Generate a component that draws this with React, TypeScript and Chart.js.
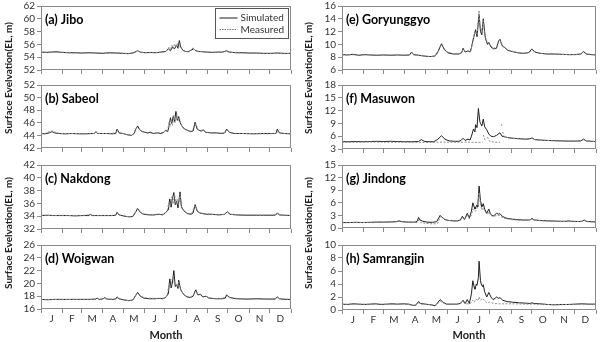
import React, { useEffect, useRef } from "react";
import { Chart, registerables } from "chart.js";

Chart.register(...registerables);

type Pt = [number, number | null];

const monthStarts = [0, 31, 59, 90, 120, 151, 181, 212, 243, 273, 304, 334, 365];
const monthMids = [15.5, 45, 74.5, 105, 135.5, 166, 196.5, 227.5, 258, 288.5, 319, 349.5];
const monthLabels = ["J", "F", "M", "A", "M", "J", "J", "A", "S", "O", "N", "D"];
const legendLabels = ["Simulated", "Measured"];
const yTitle = "Surface Evelvation(EL, m)";
const xTitle = "Month";

// (a) Jibo
const jiboSim: Pt[] = [[0,54.8],[8,54.75],[15,54.8],[22,54.85],[30,54.75],[40,54.7],[50,54.7],[60,54.65],[70,54.7],[80,54.65],[90,54.6],[100,54.7],[110,54.65],[120,54.6],[128,54.55],[135,54.7],[141,55.0],[145,54.8],[152,54.7],[160,54.75],[168,54.7],[175,54.8],[182,54.9],[186,55.3],[189,55.0],[192,55.6],[195,55.3],[198,55.9],[200,55.4],[202,56.6],[204,55.6],[207,55.1],[211,54.9],[215,54.85],[219,55.1],[223,55.3],[226,55.0],[230,54.9],[236,54.85],[242,54.8],[250,54.75],[258,54.8],[265,54.8],[271,55.0],[275,54.8],[285,54.7],[295,54.7],[305,54.65],[315,54.65],[325,54.6],[335,54.6],[345,54.65],[355,54.6],[365,54.6]];
const jiboMea: Pt[] = [[0,54.75],[10,54.8],[20,54.75],[30,54.8],[40,54.7],[50,54.65],[60,54.7],[70,54.65],[80,54.7],[90,54.65],[100,54.6],[110,54.7],[120,54.6],[128,54.6],[135,54.65],[141,54.95],[146,54.75],[155,54.7],[165,54.7],[175,54.75],[182,54.85],[185,55.2],[187,55.6],[189,55.1],[191,55.9],[193,55.3],[195,56.1],[197,55.6],[199,56.2],[201,55.5],[203,56.0],[205,55.3],[208,55.0],[212,54.9],[217,54.95],[220,55.2],[222,55.5],[225,55.1],[229,54.9],[235,54.85],[245,54.8],[255,54.75],[265,54.8],[270,54.95],[274,54.8],[285,54.7],[300,54.65],[320,54.6],[340,54.6],[355,54.55],[365,54.6]];

// (b) Sabeol
const sabeolSim: Pt[] = [[0,44.3],[6,44.25],[12,44.4],[16,44.6],[20,44.4],[26,44.3],[35,44.25],[45,44.3],[55,44.25],[65,44.25],[72,44.3],[78,44.3],[80,44.6],[83,44.3],[95,44.3],[105,44.25],[109,44.3],[111,45.0],[114,44.4],[120,44.3],[126,44.1],[132,44.0],[136,44.3],[138,44.9],[141,45.5],[144,44.9],[148,44.6],[155,44.4],[160,44.5],[164,44.3],[170,44.4],[175,44.3],[179,44.5],[182,44.8],[185,44.6],[187,45.5],[189,46.8],[191,45.9],[193,47.0],[195,46.2],[197,47.8],[199,46.4],[201,47.0],[203,46.1],[206,45.4],[210,45.0],[214,44.8],[218,44.6],[222,44.7],[225,46.1],[228,45.0],[231,44.8],[234,44.7],[237,44.9],[240,44.5],[248,44.4],[256,44.4],[264,44.3],[268,44.4],[271,45.0],[275,44.5],[282,44.3],[295,44.3],[310,44.25],[325,44.3],[338,44.3],[343,44.3],[345,45.0],[348,44.4],[356,44.3],[365,44.25]];
const sabeolMea: Pt[] = [[0,44.25],[6,44.3],[10,44.5],[14,44.7],[18,44.65],[22,44.45],[28,44.3],[40,44.3],[55,44.3],[70,44.25],[79,44.3],[80,44.5],[83,44.3],[100,44.3],[110,44.4],[111,44.9],[114,44.4],[122,44.25],[128,44.0],[133,44.05],[137,44.6],[140,45.3],[143,45.0],[147,44.6],[155,44.4],[165,44.35],[172,44.4],[178,44.4],[181,44.7],[185,44.7],[187,46.2],[188,45.3],[190,46.5],[192,45.6],[194,47.2],[196,46.0],[198,47.4],[200,46.3],[202,46.8],[204,45.8],[207,45.2],[211,44.9],[216,44.7],[221,44.7],[224,45.6],[226,45.9],[229,45.0],[233,44.7],[237,44.8],[242,44.5],[250,44.4],[262,44.35],[270,44.5],[272,44.9],[276,44.4],[290,44.3],[310,44.3],[330,44.25],[344,44.3],[345,44.8],[348,44.35],[365,44.25]];

// (c) Nakdong
const nakdongSim: Pt[] = [[0,34.1],[10,34.15],[20,34.1],[30,34.1],[40,34.1],[50,34.05],[60,34.1],[70,34.1],[72,34.3],[75,34.1],[85,34.1],[95,34.1],[105,34.1],[109,34.15],[111,34.6],[114,34.2],[120,34.05],[128,33.9],[134,33.95],[138,34.6],[141,35.2],[145,34.6],[150,34.3],[158,34.2],[165,34.2],[172,34.3],[178,34.2],[182,34.6],[186,35.0],[188,36.7],[190,35.4],[192,36.8],[194,37.7],[196,35.8],[198,36.3],[200,35.3],[203,37.8],[205,35.4],[209,34.8],[214,34.4],[219,34.3],[222,34.5],[225,35.8],[228,34.8],[232,34.5],[236,34.4],[242,34.3],[250,34.3],[260,34.2],[268,34.3],[272,34.7],[276,34.3],[285,34.2],[300,34.15],[315,34.15],[330,34.15],[342,34.15],[345,34.5],[348,34.2],[356,34.15],[365,34.1]];
const nakdongMea: Pt[] = [[0,34.15],[15,34.1],[30,34.15],[45,34.1],[60,34.1],[72,34.25],[80,34.1],[100,34.1],[110,34.2],[111,34.5],[115,34.15],[125,33.95],[132,33.9],[137,34.4],[140,35.1],[143,34.9],[148,34.4],[158,34.25],[170,34.3],[180,34.3],[184,34.8],[187,36.2],[189,35.6],[191,37.0],[193,36.0],[195,37.4],[197,36.0],[199,36.7],[201,35.8],[203,37.5],[205,35.6],[208,34.9],[213,34.5],[220,34.4],[224,35.5],[226,35.5],[229,34.7],[234,34.5],[240,34.35],[255,34.25],[268,34.25],[272,34.6],[276,34.3],[295,34.2],[320,34.15],[344,34.2],[345,34.45],[349,34.2],[365,34.1]];

// (d) Woigwan
const woigwanSim: Pt[] = [[0,17.5],[10,17.45],[20,17.5],[30,17.5],[40,17.5],[50,17.5],[60,17.5],[70,17.5],[80,17.55],[82,17.7],[85,17.5],[91,17.6],[93,17.8],[96,17.55],[105,17.5],[109,17.55],[111,17.9],[114,17.6],[120,17.45],[128,17.3],[134,17.4],[138,18.1],[141,18.6],[145,18.0],[150,17.7],[158,17.6],[165,17.6],[172,17.65],[178,17.6],[182,17.8],[186,18.4],[188,20.7],[190,19.3],[192,20.2],[194,22.0],[196,19.5],[198,19.8],[200,19.2],[201,20.5],[204,19.0],[208,18.3],[213,17.9],[218,17.8],[222,18.0],[226,19.0],[229,18.2],[233,18.3],[236,17.9],[241,18.0],[245,17.7],[255,17.6],[265,17.6],[269,17.7],[271,18.2],[275,17.8],[285,17.6],[300,17.55],[315,17.6],[330,17.55],[342,17.55],[345,17.9],[348,17.6],[356,17.5],[365,17.5]];
const woigwanMea: Pt[] = [[0,17.45],[15,17.5],[30,17.45],[45,17.5],[60,17.5],[75,17.5],[82,17.65],[86,17.5],[93,17.7],[97,17.5],[110,17.55],[111,17.8],[115,17.5],[125,17.35],[132,17.35],[137,17.8],[140,18.5],[143,18.3],[147,17.9],[155,17.7],[168,17.65],[180,17.7],[184,18.0],[187,20.0],[189,19.5],[191,20.5],[193,21.2],[195,19.8],[197,20.0],[199,19.4],[201,20.2],[203,19.3],[207,18.5],[212,18.0],[218,17.85],[223,18.3],[226,18.8],[229,18.3],[233,18.2],[237,17.9],[241,17.95],[247,17.7],[260,17.6],[270,17.8],[272,18.1],[276,17.8],[290,17.6],[320,17.55],[344,17.6],[345,17.85],[349,17.6],[365,17.5]];

// (e) Goryunggyo
const goryunggyoSim: Pt[] = [[0,8.4],[8,8.35],[16,8.45],[24,8.3],[32,8.4],[40,8.35],[50,8.3],[60,8.35],[70,8.3],[80,8.35],[90,8.3],[97,8.35],[100,8.8],[103,8.4],[110,8.3],[120,8.15],[128,8.1],[134,8.2],[138,8.9],[143,10.1],[147,9.2],[152,8.7],[160,8.5],[168,8.5],[172,8.7],[174,9.4],[177,8.8],[181,9.0],[184,8.8],[186,9.5],[189,11.0],[192,12.3],[194,11.2],[197,14.7],[199,12.0],[201,11.5],[203,14.0],[206,11.0],[209,10.0],[211,10.3],[214,9.6],[218,9.3],[222,9.4],[225,10.5],[227,10.8],[230,9.8],[234,9.5],[238,9.1],[244,8.9],[252,8.7],[260,8.6],[268,8.7],[273,9.3],[277,8.8],[285,8.6],[295,8.5],[305,8.5],[315,8.45],[325,8.4],[335,8.4],[343,8.5],[347,8.9],[351,8.5],[358,8.4],[365,8.35]];
const goryunggyoMea: Pt[] = [[0,8.35],[10,8.4],[20,8.35],[30,8.35],[40,8.4],[55,8.3],[70,8.35],[85,8.3],[98,8.4],[100,8.7],[104,8.35],[115,8.25],[125,8.1],[133,8.15],[138,8.7],[142,9.9],[145,9.7],[150,8.9],[160,8.55],[170,8.6],[174,9.2],[177,8.9],[181,8.9],[185,8.9],[188,10.5],[191,12.0],[194,11.5],[196,14.0],[197,15.3],[198,13.0],[201,12.0],[203,13.7],[205,11.5],[209,10.2],[212,10.0],[216,9.5],[221,9.4],[225,10.3],[227,10.6],[231,9.7],[236,9.3],[242,9.0],[252,8.75],[262,8.6],[270,8.8],[273,9.2],[278,8.8],[290,8.55],[310,8.45],[330,8.4],[344,8.5],[347,8.85],[352,8.5],[365,8.35]];

// (f) Masuwon
const masuwonSim: Pt[] = [[0,4.7],[10,4.7],[20,4.75],[30,4.7],[40,4.75],[50,4.8],[60,4.75],[70,4.8],[80,4.75],[90,4.7],[100,4.7],[110,4.75],[114,5.2],[118,4.8],[125,4.7],[132,4.7],[137,5.2],[143,6.1],[148,5.3],[154,4.9],[162,4.8],[168,4.8],[171,5.0],[174,5.5],[177,5.0],[181,5.3],[184,5.1],[186,6.0],[189,7.7],[191,7.0],[192,8.7],[194,8.0],[196,12.5],[198,9.5],[199,9.0],[201,8.4],[203,10.0],[205,8.2],[208,7.5],[211,6.5],[214,6.0],[218,5.9],[222,6.2],[227,6.8],[230,6.0],[235,5.8],[240,5.6],[248,5.5],[256,5.4],[264,5.3],[270,5.4],[273,5.6],[277,5.2],[285,5.1],[295,5.0],[305,4.95],[315,4.9],[325,4.85],[335,4.85],[343,4.9],[347,5.3],[351,4.9],[358,4.8],[365,4.75]];
const masuwonMea: Pt[] = [[0,4.6],[20,4.6],[40,4.65],[60,4.6],[80,4.6],[100,4.6],[120,4.55],[140,4.6],[160,4.6],[180,4.6],[200,4.55],[202,4.6],[202.5,null],[203,6.3],[206,4.9],[207,null],[209,5.8],[212,4.8],[220,4.6],[227,4.6],[228,null],[229,8.8],[230,8.4],[230.5,null],[231,7.0],[233,5.9],[236,5.8],[240,5.6],[248,5.45],[256,5.35],[264,5.3],[270,5.35],[273,5.5],[277,5.2],[285,5.05],[295,5.0],[305,4.9],[315,4.9],[325,4.85],[335,4.8],[343,4.85],[347,5.2],[351,4.9],[358,4.8],[365,4.7]];

// (g) Jindong
const jindongSim: Pt[] = [[0,1.3],[10,1.3],[20,1.35],[30,1.3],[40,1.35],[50,1.4],[60,1.4],[70,1.45],[78,1.5],[82,1.7],[86,1.5],[95,1.4],[105,1.4],[108,1.6],[110,2.5],[112,1.9],[116,1.6],[122,1.4],[130,1.35],[136,1.5],[139,2.4],[141,3.0],[144,2.5],[148,2.0],[153,1.8],[160,1.7],[166,1.7],[170,1.9],[173,2.8],[176,2.0],[180,3.5],[183,2.4],[186,4.0],[188,6.0],[190,5.0],[191,4.5],[194,5.5],[195,5.0],[197,10.0],[199,6.5],[201,5.0],[203,5.8],[205,4.5],[208,3.5],[211,4.5],[213,3.5],[215,3.0],[218,2.9],[222,3.5],[225,3.3],[227,3.4],[231,2.7],[237,2.3],[245,2.1],[251,2.0],[260,1.9],[268,1.9],[271,2.0],[273,2.3],[276,1.9],[285,1.8],[295,1.7],[305,1.65],[315,1.6],[322,1.6],[325,1.7],[330,1.6],[340,1.55],[345,1.6],[348,1.9],[351,1.6],[358,1.5],[365,1.45]];
const jindongMea: Pt[] = [[0,1.25],[15,1.3],[30,1.3],[45,1.35],[60,1.4],[75,1.45],[82,1.6],[88,1.45],[100,1.35],[108,1.3],[110,1.9],[113,1.3],[120,1.1],[128,1.0],[134,1.0],[138,1.2],[141,2.7],[145,2.4],[150,1.9],[158,1.7],[166,1.7],[170,1.8],[173,2.5],[176,1.9],[180,3.2],[183,2.2],[186,3.0],[188,4.5],[190,4.2],[192,4.0],[194,4.6],[196,6.5],[197,8.5],[199,5.5],[201,4.3],[203,4.8],[206,3.8],[209,3.2],[211,3.8],[214,3.0],[218,2.7],[222,3.0],[226,3.0],[230,2.5],[237,2.2],[245,1.95],[255,1.85],[265,1.8],[273,2.1],[278,1.8],[290,1.7],[310,1.55],[330,1.5],[345,1.55],[348,1.8],[352,1.5],[365,1.4]];

// (h) Samrangjin
const samrangjinSim: Pt[] = [[0,0.9],[8,0.85],[16,0.95],[24,0.9],[32,0.85],[40,0.9],[48,0.95],[56,0.85],[64,0.9],[72,0.95],[80,0.9],[88,0.95],[96,0.9],[102,0.7],[106,0.75],[110,1.3],[113,1.0],[120,0.9],[128,0.8],[134,0.65],[138,1.2],[141,1.6],[145,1.2],[150,0.9],[158,0.9],[165,0.9],[170,1.0],[174,1.5],[177,1.0],[180,1.6],[183,1.0],[186,2.5],[188,4.5],[190,3.5],[191,3.2],[193,4.0],[194,3.8],[196,5.0],[197,7.5],[199,4.5],[200,4.0],[202,3.6],[203,3.9],[205,2.8],[208,2.0],[211,2.7],[214,2.0],[217,1.6],[220,1.8],[222,2.0],[225,1.8],[227,1.9],[231,1.5],[237,1.3],[245,1.2],[255,1.1],[265,1.05],[270,1.0],[273,1.1],[276,1.0],[285,0.95],[295,0.85],[305,0.8],[315,0.85],[325,0.85],[335,0.9],[345,0.95],[355,0.9],[365,0.9]];
const samrangjinMea: Pt[] = [[0,0.85],[10,0.9],[20,0.85],[30,0.9],[40,0.85],[50,0.9],[60,0.9],[70,0.85],[80,0.9],[90,0.9],[100,0.75],[106,0.7],[110,1.1],[114,0.9],[124,0.85],[134,0.7],[138,1.0],[141,1.4],[145,1.1],[152,0.9],[165,0.85],[174,1.2],[178,0.95],[184,0.95],[188,1.5],[190,1.2],[193,1.7],[195,1.4],[197,2.0],[199,1.5],[202,1.8],[205,1.4],[208,1.1],[212,1.2],[218,1.0],[225,0.95],[235,0.95],[250,0.95],[265,0.9],[280,0.9],[295,0.85],[310,0.8],[325,0.85],[340,0.9],[355,0.9],[365,0.85]];

type PanelCfg = {
  title: string; sim: Pt[]; mea: Pt[];
  min: number; max: number; step: number;
  col: number; top: number; h: number; bottom: boolean; legend: boolean;
};

const panels: PanelCfg[] = [
  { title: "(a) Jibo", sim: jiboSim, mea: jiboMea, min: 52, max: 62, step: 2, col: 0, top: 6, h: 66, bottom: false, legend: true },
  { title: "(b) Sabeol", sim: sabeolSim, mea: sabeolMea, min: 42, max: 52, step: 2, col: 0, top: 85, h: 65, bottom: false, legend: false },
  { title: "(c) Nakdong", sim: nakdongSim, mea: nakdongMea, min: 32, max: 42, step: 2, col: 0, top: 165, h: 66, bottom: false, legend: false },
  { title: "(d) Woigwan", sim: woigwanSim, mea: woigwanMea, min: 16, max: 26, step: 2, col: 0, top: 245, h: 64, bottom: true, legend: false },
  { title: "(e) Goryunggyo", sim: goryunggyoSim, mea: goryunggyoMea, min: 6, max: 16, step: 2, col: 1, top: 6, h: 66, bottom: false, legend: false },
  { title: "(f) Masuwon", sim: masuwonSim, mea: masuwonMea, min: 3, max: 18, step: 3, col: 1, top: 85, h: 66, bottom: false, legend: false },
  { title: "(g) Jindong", sim: jindongSim, mea: jindongMea, min: 0, max: 15, step: 3, col: 1, top: 165, h: 65, bottom: false, legend: false },
  { title: "(h) Samrangjin", sim: samrangjinSim, mea: samrangjinMea, min: 0, max: 10, step: 2, col: 1, top: 245, h: 65, bottom: true, legend: false },
];

const FONT = 'Lato, "Open Sans", "DejaVu Sans", sans-serif';
const AXIS_COLOR = "#8a8a8a";
const TEXT_COLOR = "#333333";
const PAD_TOP = 8;
const CANVAS_H_BOTTOM = 342;

function Panel({ cfg }: { cfg: PanelCfg }) {
  const ref = useRef<HTMLCanvasElement>(null);
  const left = cfg.col === 0 ? 0 : 300;
  const yW = cfg.col === 0 ? 41 : 42;
  const rightPad = cfg.col === 0 ? 9 : 4;
  const cTop = cfg.top - PAD_TOP;
  const cH = cfg.bottom ? CANVAS_H_BOTTOM - cTop : PAD_TOP + cfg.h + 4 + 2;
  const x2H = cfg.bottom ? cH - PAD_TOP - cfg.h - 4 : 0;

  useEffect(() => {
    const framePlugin = {
      id: "frame",
      afterDraw(chart: any) {
        const { ctx, chartArea: a } = chart;
        ctx.save();
        ctx.strokeStyle = AXIS_COLOR;
        ctx.lineWidth = 1;
        ctx.setLineDash([]);
        ctx.strokeRect(Math.round(a.left) + 0.5, Math.round(a.top) + 0.5, Math.round(a.right - a.left) - 1, Math.round(a.bottom - a.top) - 1);
        ctx.fillStyle = "#000";
        ctx.font = `bold 12.5px ${FONT}`;
        ctx.textBaseline = "alphabetic";
        ctx.textAlign = "left";
        ctx.fillText(cfg.title, a.left + 4, a.top + 18);
        if (cfg.legend) {
          const bw = 73, bh = 30;
          const bx = Math.round(a.right - 3 - bw) + 0.5;
          const by = Math.round(a.top + 2) + 0.5;
          ctx.strokeStyle = "#555";
          ctx.strokeRect(bx, by, bw, bh);
          ctx.font = `10px ${FONT}`;
          ctx.fillStyle = TEXT_COLOR;
          ctx.textBaseline = "middle";
          const rows = [by + 9.5, by + 21];
          ctx.lineWidth = 1;
          ctx.strokeStyle = "#1e1e1e";
          ctx.beginPath(); ctx.moveTo(bx + 4, rows[0]); ctx.lineTo(bx + 22, rows[0]); ctx.stroke();
          ctx.strokeStyle = "#7a7a7a";
          ctx.setLineDash([1.5, 1]);
          ctx.beginPath(); ctx.moveTo(bx + 4, rows[1]); ctx.lineTo(bx + 22, rows[1]); ctx.stroke();
          ctx.setLineDash([]);
          ctx.fillText(legendLabels[0], bx + 25, rows[0]);
          ctx.fillText(legendLabels[1], bx + 25, rows[1]);
        }
        ctx.restore();
      },
    };

    const chart = new Chart(ref.current as HTMLCanvasElement, {
      type: "line",
      data: {
        datasets: [
          {
            label: legendLabels[1],
            data: cfg.mea.map(([x, y]) => ({ x, y })) as any,
            borderColor: "#8c8c8c",
            borderWidth: 1,
            borderDash: [2, 1.5],
            pointRadius: 0,
            spanGaps: false,
          },
          {
            label: legendLabels[0],
            data: cfg.sim.map(([x, y]) => ({ x, y })) as any,
            borderColor: "#1e1e1e",
            borderWidth: 1,
            pointRadius: 0,
          },
        ],
      },
      options: {
        animation: false,
        responsive: false,
        events: [],
        layout: { padding: { top: PAD_TOP, right: rightPad, left: 0, bottom: cfg.bottom ? 0 : 2 } },
        plugins: { legend: { display: false }, tooltip: { enabled: false } },
        scales: {
          x: {
            type: "linear", min: 0, max: 365, position: "bottom",
            afterBuildTicks: (s: any) => { s.ticks = monthStarts.map((v) => ({ value: v })); },
            ticks: { display: false },
            grid: { drawOnChartArea: false, drawTicks: true, tickLength: 4, color: AXIS_COLOR },
            border: { display: false },
            afterFit: (s: any) => { s.height = 4; },
          },
          x2: {
            type: "linear", min: 0, max: 365, position: "bottom", display: cfg.bottom,
            afterBuildTicks: (s: any) => { s.ticks = monthMids.map((v) => ({ value: v })); },
            ticks: {
              callback: (_v: any, i: number) => monthLabels[i],
              font: { family: FONT, size: 10 }, color: TEXT_COLOR, padding: 0,
              maxRotation: 0, autoSkip: false,
            },
            grid: { display: false, drawTicks: false },
            border: { display: false },
            title: { display: true, text: xTitle, font: { family: FONT, size: 11, weight: "bold" }, color: "#222", padding: 0 },
            afterFit: (s: any) => { s.height = x2H; },
          },
          y: {
            min: cfg.min, max: cfg.max,
            afterBuildTicks: (s: any) => {
              const t = [];
              for (let v = cfg.min; v <= cfg.max + 1e-9; v += cfg.step) t.push({ value: v });
              s.ticks = t;
            },
            ticks: { stepSize: cfg.step, autoSkip: false, font: { family: FONT, size: 10 }, color: TEXT_COLOR, padding: 2 },
            grid: { drawOnChartArea: false, tickLength: 4, color: AXIS_COLOR },
            border: { display: false },
            afterFit: (s: any) => { s.width = yW; },
          },
        },
      } as any,
      plugins: [framePlugin],
    });
    return () => chart.destroy();
  }, []);

  return (
    <canvas
      ref={ref}
      width={300}
      height={cH}
      style={{ position: "absolute", left, top: cTop, width: 300, height: cH }}
    />
  );
}

function YTitle({ cx, cy }: { cx: number; cy: number }) {
  return (
    <div
      style={{
        position: "absolute", left: cx, top: cy,
        transform: "translate(-50%, -50%) rotate(-90deg)",
        whiteSpace: "nowrap", fontFamily: FONT, fontWeight: "bold",
        fontSize: 10, color: "#222", lineHeight: "12px",
      }}
    >
      {yTitle}
    </div>
  );
}

export default function App() {
  return (
    <div style={{ position: "absolute", left: 0, top: 0, width: 600, height: 342, background: "#fff", overflow: "hidden" }}>
      {panels.map((p, i) => <Panel key={i} cfg={p} />)}
      <YTitle cx={8} cy={78} />
      <YTitle cx={8} cy={233} />
      <YTitle cx={308} cy={78} />
      <YTitle cx={308} cy={233} />
    </div>
  );
}
